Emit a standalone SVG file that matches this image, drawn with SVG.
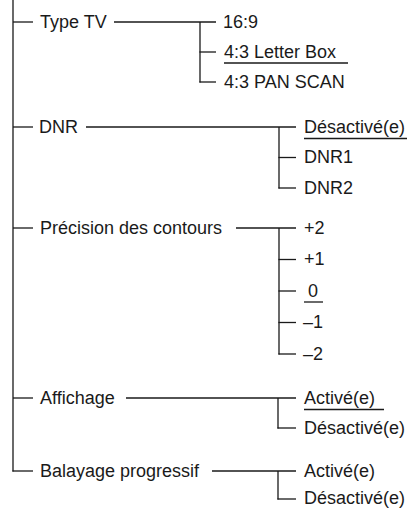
<svg xmlns="http://www.w3.org/2000/svg" width="410" height="509" viewBox="0 0 410 509">
<style>
text{font-family:"Liberation Sans",Arial,Helvetica,sans-serif;font-size:18px;fill:#1a1a1a}
.c line,.u line{stroke:#1a1a1a;stroke-width:1.3;fill:none}
</style>
<rect width="410" height="509" fill="#fff"/>
<g id="connectors" class="c">
<line x1="13" y1="0" x2="13" y2="471.6"/>
<line x1="13" y1="22" x2="33" y2="22"/>
<line x1="114" y1="22" x2="216" y2="22"/>
<line x1="200" y1="22" x2="200" y2="82.6"/>
<line x1="199.4" y1="52" x2="216" y2="52"/>
<line x1="199.4" y1="82" x2="216" y2="82"/>
<line x1="13" y1="127" x2="33" y2="127"/>
<line x1="86" y1="127" x2="296" y2="127"/>
<line x1="279" y1="127" x2="279" y2="188.6"/>
<line x1="278.4" y1="157.5" x2="296" y2="157.5"/>
<line x1="278.4" y1="188" x2="296" y2="188"/>
<line x1="13" y1="228" x2="33" y2="228"/>
<line x1="236" y1="228" x2="296" y2="228"/>
<line x1="279" y1="228" x2="279" y2="354.6"/>
<line x1="278.4" y1="259.5" x2="296" y2="259.5"/>
<line x1="278.4" y1="291" x2="296" y2="291"/>
<line x1="278.4" y1="322.5" x2="296" y2="322.5"/>
<line x1="278.4" y1="354" x2="296" y2="354"/>
<line x1="13" y1="398" x2="33" y2="398"/>
<line x1="126" y1="398" x2="296" y2="398"/>
<line x1="278" y1="398" x2="278" y2="428.6"/>
<line x1="277.4" y1="428" x2="296" y2="428"/>
<line x1="12.4" y1="471" x2="33" y2="471"/>
<line x1="212" y1="471" x2="296" y2="471"/>
<line x1="278" y1="471" x2="278" y2="499.6"/>
<line x1="277.4" y1="499" x2="296" y2="499"/>
</g>
<g id="n-typetv"><text x="40" y="27.5">Type TV</text></g>
<g id="n-169"><text x="223" y="27.5">16:9</text></g>
<g id="n-letterbox" class="u"><text x="224" y="57.5">4:3 Letter Box</text><line x1="224" y1="63" x2="348" y2="63"/></g>
<g id="n-panscan"><text x="224" y="87.5">4:3 PAN SCAN</text></g>
<g id="n-dnr"><text x="39" y="132.5">DNR</text></g>
<g id="n-dnr-off" class="u"><text x="304" y="132.5">Désactivé(e)</text><line x1="304" y1="138.5" x2="407" y2="138.5"/></g>
<g id="n-dnr1"><text x="304" y="163">DNR1</text></g>
<g id="n-dnr2"><text x="304" y="193.5">DNR2</text></g>
<g id="n-precision"><text x="40" y="233.5">Précision des contours</text></g>
<g id="n-p2"><text x="304" y="233.5">+2</text></g>
<g id="n-p1"><text x="304" y="265">+1</text></g>
<g id="n-0" class="u"><text x="308" y="296.5">0</text><line x1="304" y1="302" x2="323" y2="302"/></g>
<g id="n-m1"><text x="303" y="328">–1</text></g>
<g id="n-m2"><text x="303" y="359.5">–2</text></g>
<g id="n-affichage"><text x="40" y="403.5">Affichage</text></g>
<g id="n-aff-on" class="u"><text x="304" y="403.5">Activé(e)</text><line x1="304" y1="409.5" x2="384" y2="409.5"/></g>
<g id="n-aff-off"><text x="304" y="433.5">Désactivé(e)</text></g>
<g id="n-balayage"><text x="40" y="476.5">Balayage progressif</text></g>
<g id="n-bal-on"><text x="304" y="476.5">Activé(e)</text></g>
<g id="n-bal-off"><text x="304" y="503.5">Désactivé(e)</text></g>
</svg>
